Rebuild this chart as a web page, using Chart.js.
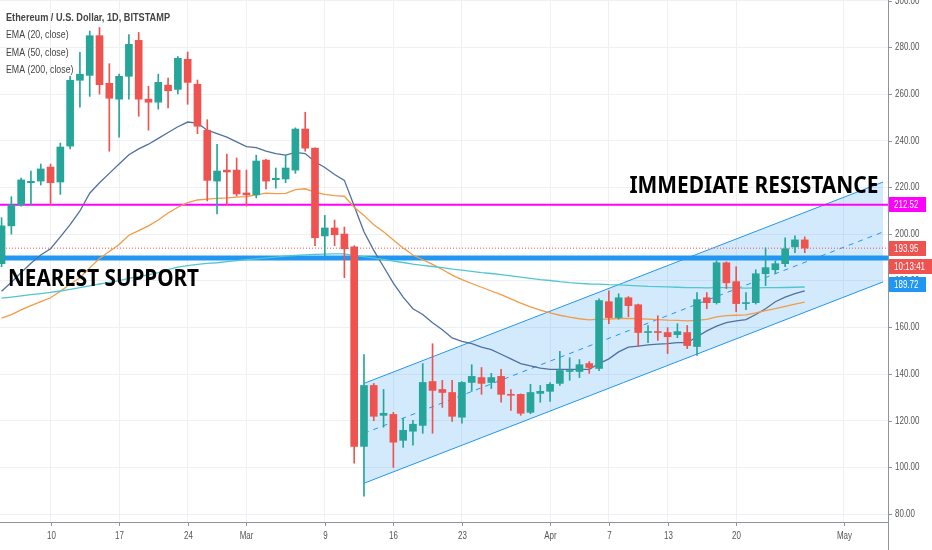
<!DOCTYPE html>
<html><head><meta charset="utf-8">
<script src="https://cdn.jsdelivr.net/npm/chart.js@4.4.1/dist/chart.umd.min.js"></script>
<style>html,body{margin:0;padding:0;background:#fff}#wrap{width:932px;height:550px;position:relative}</style>
</head><body><div id="wrap"><canvas id="c"></canvas></div>
<script>
const dates = [
'2020-02-05','2020-02-06','2020-02-07','2020-02-08','2020-02-09','2020-02-10','2020-02-11','2020-02-12','2020-02-13','2020-02-14',
'2020-02-15','2020-02-16','2020-02-17','2020-02-18','2020-02-19','2020-02-20','2020-02-21','2020-02-22','2020-02-23','2020-02-24',
'2020-02-25','2020-02-26','2020-02-27','2020-02-28','2020-02-29','2020-03-01','2020-03-02','2020-03-03','2020-03-04','2020-03-05',
'2020-03-06','2020-03-07','2020-03-08','2020-03-09','2020-03-10','2020-03-11','2020-03-12','2020-03-13','2020-03-14','2020-03-15',
'2020-03-16','2020-03-17','2020-03-18','2020-03-19','2020-03-20','2020-03-21','2020-03-22','2020-03-23','2020-03-24','2020-03-25',
'2020-03-26','2020-03-27','2020-03-28','2020-03-29','2020-03-30','2020-03-31','2020-04-01','2020-04-02','2020-04-03','2020-04-04',
'2020-04-05','2020-04-06','2020-04-07','2020-04-08','2020-04-09','2020-04-10','2020-04-11','2020-04-12','2020-04-13','2020-04-14',
'2020-04-15','2020-04-16','2020-04-17','2020-04-18','2020-04-19','2020-04-20','2020-04-21','2020-04-22','2020-04-23','2020-04-24',
'2020-04-25','2020-04-26','2020-04-27'];
const opens = [187.3,203.5,212.5,222,222.7,228.7,222.3,237.7,265.9,268,
285,264.6,257.8,267.6,283,257.8,256.5,263.8,262,274.9,
264.2,244.5,222.7,227.4,227.4,217.6,216.8,231.7,223.3,223.6,
227.4,245,236.8,199.2,202.6,200,194.5,109,135.1,122.3,
122.7,111.6,115.5,118,136.8,133.4,132.1,121.5,136.4,138.5,
136.4,139,131.3,131.3,123.6,131.7,132.6,136,141.1,141.1,
144.5,142.4,171,164.2,172.7,169.7,157.8,158.2,157.8,156.9,
157.8,151.8,172.7,170.6,187.7,179.6,170.2,170.6,183,184.7,
187.3,194.5,197.5];
const highs = [207,216,224,227,230,230,239,267.6,277.9,287,
288.5,273,268.5,285.5,286.4,263.3,268.5,266.8,276,278,
266,249,238.5,234.3,232.6,227.4,233.8,232,228.3,233.8,
245.5,252.2,237,208,206,203,195,148.4,136,133.4,
123.6,121,120.2,144.5,153,137.3,137.3,136.8,144,142.8,
140.3,142,133.4,131.5,135.6,135.1,136.4,149.7,147,146.2,
145.4,172.2,175.7,174.4,173.2,170,160.8,165,159.9,161.6,
160.8,174.9,174.9,188.5,188.1,186,174.9,184.7,194.1,188.5,
198.4,199.2,198.8];
const lows = [186,200,212,212.5,221,212.5,217,236.5,254.4,259,
260,235.5,241.5,257.8,250.5,244.5,253.5,254,260,255.6,
243,214.2,208.6,212.5,216.3,212,215.5,219.3,219.7,222,
226,235.5,195,190.7,195,181.3,101.8,87.7,120,117.2,
100,108.6,109.5,114.6,114.6,125.7,119.7,118.9,132.6,131.3,
133.8,127.9,124.4,122.3,123,127.9,128.3,135.1,137.3,138.5,
140.3,141.5,161.6,163.5,164.6,151.8,153.5,154.4,148.8,155.6,
150.9,148,168,170,176.6,166.7,167.6,170,177.9,183,
186,192,192];
const closes = [203.5,212.5,223.2,222.6,227.9,222,237.3,265.9,268.5,285,
264,258.2,267.6,281.3,257.8,256.5,265,261.4,275.3,265,
246.2,223,227,226.6,217.2,216.8,231.3,222.7,223.9,228.3,
245,236.8,198.4,202.6,199.7,193.7,109,135.1,121.9,123.2,
110.8,115.9,118.5,136.4,133,132.1,121.9,136.4,139,136,
138.5,131.3,130.9,123.2,132.1,132.6,135.6,141.5,141.5,144,
142.8,171.5,164.2,172.7,169.3,157.8,158.2,157.8,156,158.2,
152.2,171.9,170.6,187.7,179.1,170.2,170.6,183,185.6,187.3,
193.7,197.5,193.95];
const ema20 = [175.5,179.3,183.5,187.5,191,193.7,198.8,204,209.9,217.5,
222,226,230,234,236.5,238.5,241,243.5,246,248,
247.5,244.5,243,241.5,239.5,237.5,237,235.5,234.5,233.8,
235,234.5,231,228.5,225.5,223,212,201,193,186,
179,173,168,165.5,162,159,155.5,154,153,151.5,
150.5,148.5,146.5,144.5,143.5,142.5,142,142,142,142,
142,144.5,146.5,149.5,151.5,152,152.5,152.8,153,153.5,
153.5,156,158.5,160.5,162,162.8,163.3,165.5,168,171,
173,174.5,175.7];
const ema50 = [164,165.5,167.5,169.3,171,172.7,175.5,178.5,181.3,185.5,
189.5,192.5,195.5,199.5,201.5,203.5,206,209,211.5,213.5,
214.6,215,215.3,215.5,215.8,216,216.8,217.5,217.3,217.4,
219,219.4,218,217,216.5,216.2,211.5,208,204,201,
197.5,194,191,189,187,184.8,182.4,180.5,178.8,177.2,
175.6,174,172.2,170.4,168.8,167.4,166.2,165.2,164.4,163.7,
163.2,163.5,163.6,163.8,163.9,163.7,163.5,163.3,163.1,163,
162.8,163,163.4,164.5,165,165.2,165.4,166.2,167.2,168,
169,170,170.8];
const ema200 = [172.5,173,173.5,174,174.5,175,175.6,176.3,177,177.8,
178.6,179.3,180,181,181.8,182.5,183.5,184.8,185.8,186.5,
187,187.4,187.7,188.2,188.6,189,189.4,189.8,190.1,190.5,
190.8,191.1,191.3,191.4,191.5,191.5,190.8,190.3,189.7,189.1,
188.4,187.8,187.1,186.6,186.1,185.6,185,184.5,184,183.5,
183.1,182.6,182.1,181.5,181,180.5,180.1,179.6,179.2,178.9,
178.6,178.5,178.3,178.2,178,177.8,177.6,177.5,177.4,177.2,
177,177,176.9,177,177,176.9,176.8,176.9,177,177,
177.1,177.2,177.3];
const channelDates = ['2020-03-13','2020-05-05'];
const channelUpper = [136, 222.3];
const channelLower = [93.2, 179.5];
const resistanceLevel = 212.52;
const supportLevel = 189.72;
const lastPrice = 193.95;
const countdownText = '10:13:41';
const yTicks = [80,100,120,140,160,180,200,220,240,260,280,300];
const xTickDates = ['2020-02-10','2020-02-17','2020-02-24','2020-03-01','2020-03-09','2020-03-16','2020-03-23','2020-04-01','2020-04-07','2020-04-13','2020-04-20','2020-05-01'];
const xTickLabels = ['10','17','24','Mar','9','16','23','Apr','7','13','20','May'];
const titleText = 'Ethereum / U.S. Dollar, 1D, BITSTAMP';
const legendLabels = ['EMA (20, close)','EMA (50, close)','EMA (200, close)'];
const resistanceText = 'IMMEDIATE RESISTANCE';
const supportText = 'NEAREST SUPPORT';

const BASE = Date.UTC(2020,1,10);
function dayOffset(d){ return (Date.parse(d) - BASE) / 86400000; }
const X_MIN = -5.16, X_MAX = 85.5, Y_MIN = 76.6, Y_MAX = 300.3;
const GREEN = '#26a69a', RED = '#ef5350';
const xs = dates.map(dayOffset);
const candleColors = opens.map((o,i)=> closes[i] >= o ? GREEN : RED);
const series = arr => arr.map((v,i)=>({x: xs[i], y: v}));
const chX = channelDates.map(dayOffset);
const hline = v => [{x: X_MIN, y: v},{x: X_MAX, y: v}];

function sText(ctx, text, x, y, font, color, sx, align, base){
  ctx.save();
  ctx.font = font; ctx.fillStyle = color; ctx.textBaseline = base || 'alphabetic'; ctx.textAlign = 'left';
  const w = ctx.measureText(text).width * sx;
  let x0 = align === 'center' ? x - w/2 : (align === 'right' ? x - w : x);
  ctx.translate(x0, y); ctx.scale(sx, 1); ctx.fillText(text, 0, 0);
  ctx.restore();
  return w;
}
function fitText(ctx, text, x, y, font, color, width){
  ctx.save();
  ctx.font = font; ctx.fillStyle = color; ctx.textBaseline = 'alphabetic'; ctx.textAlign = 'left';
  const s = width / ctx.measureText(text).width;
  ctx.translate(x, y); ctx.scale(s, 1); ctx.fillText(text, 0, 0);
  ctx.restore();
}

const overlay = {
  id: 'overlay',
  afterDraw(chart){
    const ctx = chart.ctx, xS = chart.scales.x, yS = chart.scales.y, ca = chart.chartArea;
    ctx.save();
    // axis lines
    ctx.strokeStyle = '#8f939b'; ctx.lineWidth = 1;
    ctx.beginPath(); ctx.moveTo(ca.right + 0.5, 0); ctx.lineTo(ca.right + 0.5, chart.height); ctx.stroke();
    ctx.beginPath(); ctx.moveTo(0, ca.bottom + 0.5); ctx.lineTo(ca.right, ca.bottom + 0.5); ctx.stroke();
    // y ticks
    const axFont = '10.5px "Liberation Sans", Arial, sans-serif';
    yTicks.forEach(v => {
      const y = Math.round(yS.getPixelForValue(v)) + 0.5;
      ctx.strokeStyle = '#8f939b';
      ctx.beginPath(); ctx.moveTo(ca.right, y); ctx.lineTo(ca.right + 4, y); ctx.stroke();
      sText(ctx, v.toFixed(2), ca.right + 7, y, axFont, '#555', 0.76, 'left', 'middle');
    });
    // x ticks
    xTickDates.forEach((d,i) => {
      const x = Math.round(xS.getPixelForValue(dayOffset(d))) + 0.5;
      ctx.strokeStyle = '#8f939b';
      ctx.beginPath(); ctx.moveTo(x, ca.bottom); ctx.lineTo(x, ca.bottom + 4); ctx.stroke();
      sText(ctx, xTickLabels[i], x, ca.bottom + 14, axFont, '#555', 0.76, 'center', 'middle');
    });
    // price labels on right axis
    const box = (txt, yc, bg, w) => {
      ctx.fillStyle = bg;
      ctx.fillRect(ca.right + 1, Math.round(yc - 7.5), w, 15);
      sText(ctx, txt, ca.right + 6, yc + 0.5, '10.5px "Liberation Sans", Arial, sans-serif', '#ffffff', 0.76, 'left', 'middle');
    };
    box(resistanceLevel.toFixed(2), yS.getPixelForValue(resistanceLevel), '#ff00ff', 37);
    const yLast = yS.getPixelForValue(lastPrice);
    box(lastPrice.toFixed(2), yLast, RED, 37);
    box(countdownText, yLast + 18, RED, 43);
    box(supportLevel.toFixed(2), Math.max(yS.getPixelForValue(supportLevel), yLast + 36), '#2196f3', 37);
    // legend
    fitText(ctx, titleText, 6, 21, 'bold 11px "Liberation Sans", Arial, sans-serif', '#444444', 164);
    legendLabels.forEach((t,i) => {
      sText(ctx, t, 6, 38 + i*17.5, '11px "Liberation Sans", Arial, sans-serif', '#444444', 0.8, 'left');
    });
    // annotations
    fitText(ctx, resistanceText, xS.getPixelForValue(dayOffset('2020-04-09')) + 1, yS.getPixelForValue(217.6), 'bold 24px "Noto Sans", sans-serif', '#000000', 249);
    fitText(ctx, supportText, xS.getPixelForValue(-4.34), yS.getPixelForValue(177.6), 'bold 24px "Noto Sans", sans-serif', '#000000', 191);
    ctx.restore();
  }
};

const lineDs = (label, data, color, width, order, extra) => Object.assign({
  type: 'line', label, data, borderColor: color, borderWidth: width, pointRadius: 0,
  fill: false, tension: 0, order
}, extra || {});

new Chart(document.getElementById('c'), {
  type: 'bar',
  data: {
    datasets: [
      lineDs('channelUpper', channelUpper.map((v,i)=>({x: chX[i], y: v})), '#2196f3', 1, 20),
      lineDs('channelLower', channelLower.map((v,i)=>({x: chX[i], y: v})), '#2196f3', 1, 19, {fill: '-1', backgroundColor: 'rgba(33,150,243,0.2)'}),
      lineDs('channelMid', channelUpper.map((v,i)=>({x: chX[i], y: (v + channelLower[i]) / 2})), '#2196f3', 1, 18, {borderDash: [5,5]}),
      lineDs('resistance', hline(resistanceLevel), '#ff00ff', 2, 15),
      lineDs('support', hline(supportLevel), '#2196f3', 5, 15),
      lineDs('last', hline(lastPrice), RED, 1, 14, {borderDash: [1,2]}),
      lineDs('EMA 200', series(ema200), '#4fc6d3', 1.3, 6),
      lineDs('EMA 50', series(ema50), '#f39b45', 1.3, 6),
      lineDs('EMA 20', series(ema20), '#50719f', 1.3, 6),
      { type: 'bar', label: 'wicks', data: xs.map((x,i)=>({x, y: [lows[i], highs[i]]})),
        backgroundColor: candleColors, barThickness: 1, grouped: false, order: 2 },
      { type: 'bar', label: 'bodies', data: xs.map((x,i)=>({x, y: [opens[i], closes[i]]})),
        backgroundColor: candleColors, barThickness: 7, minBarLength: 1, grouped: false, order: 1 }
    ]
  },
  options: {
    responsive: true, maintainAspectRatio: false, animation: false,
    layout: { padding: 0, autoPadding: false },
    plugins: { legend: { display: false }, tooltip: { enabled: false } },
    scales: {
      x: {
        type: 'linear', min: X_MIN, max: X_MAX, offset: false,
        afterBuildTicks: s => { s.ticks = xTickDates.map(d => ({ value: dayOffset(d) })); },
        afterFit: s => { s.height = 28; },
        ticks: { display: false },
        grid: { color: '#eef0f4', drawTicks: false, offset: false },
        border: { display: false }
      },
      y: {
        type: 'linear', position: 'right', min: Y_MIN, max: Y_MAX,
        afterBuildTicks: s => { s.ticks = yTicks.map(v => ({ value: v })); },
        afterFit: s => { s.width = 44; },
        ticks: { display: false },
        grid: { color: '#eef0f4', drawTicks: false },
        border: { display: false }
      }
    }
  },
  plugins: [overlay]
});
</script>
</body></html>
